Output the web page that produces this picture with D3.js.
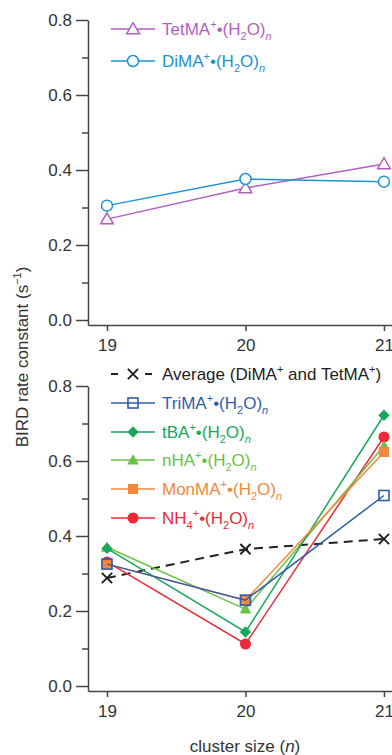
<!DOCTYPE html>
<meta charset="utf-8">
<script src="https://d3js.org/d3.v7.min.js"></script>
<style>
body { margin: 0; background: #fff; }
text { font-family: "Liberation Sans", Arial, Helvetica, sans-serif; }
.axis path, .axis line { stroke: #444; stroke-width: 1.5px; }
.axis text { font-size: 17px; fill: #333; }
</style>
<body>
<div id="chart"></div>
<script>

// ---------- data ----------
const clusterSizes = [19, 20, 21]
const yTicks = [0, 0.2, 0.4, 0.6, 0.8]
const yMinorTicks = [0.1, 0.3, 0.5, 0.7]

const tetMA = [0.269, 0.352, 0.416]
const diMA = [0.305, 0.376, 0.369]

const average = [0.288, 0.365, 0.392]
const triMA = [0.325, 0.229, 0.508]
const tBA = [0.367, 0.144, 0.722]
const nHA = [0.37, 0.205, 0.64]
const monMA = [0.325, 0.229, 0.624]
const nh4 = [0.331, 0.112, 0.664]

const W = 392, H = 755

const SVG = d3.select("#chart").append("svg")
  .attr("width", W)
  .attr("height", H)

const x = d3.scaleLinear().domain([18.863, 21.058]).range([88, 392])

const yTop = d3.scaleLinear().domain([-0.0133, 0.8]).range([325, 20])
const yBot = d3.scaleLinear().domain([-0.0133, 0.8]).range([691, 386])

function drawAxes(y, yAxisBottom) {
  // minor ticks
  SVG.append("g").attr("class", "axis")
    .attr("transform", "translate(88,0)")
    .call(d3.axisLeft(y).tickValues(yMinorTicks).tickSize(6).tickFormat(""))
    .select(".domain").remove()
  SVG.append("g").attr("class", "axis")
    .attr("transform", "translate(88,0)")
    .call(d3.axisLeft(y).tickValues(yTicks).tickSize(12).tickSizeOuter(0).tickPadding(4)
      .tickFormat(d3.format(".1f")))
  SVG.append("g").attr("class", "axis")
    .attr("transform", "translate(0," + yAxisBottom + ")")
    .call(d3.axisBottom(x).tickValues(clusterSizes).tickSize(6).tickSizeOuter(0).tickPadding(8)
      .tickFormat(d3.format("d")))
}

drawAxes(yTop, 325)
drawAxes(yBot, 691)

// y label
SVG.append("text")
  .attr("transform", "translate(28,357) rotate(-90)")
  .attr("text-anchor", "middle")
  .style("font-size", "17px")
  .attr("fill", "#333")
  .call(t => {
    t.append("tspan").text("BIRD rate constant (s")
    t.append("tspan").text("−1").attr("dy", -7).style("font-size", "11px")
    t.append("tspan").text(")").attr("dy", 7)
  })

// x label
SVG.append("text")
  .attr("x", 245).attr("y", 752)
  .attr("text-anchor", "middle")
  .style("font-size", "17px")
  .attr("fill", "#333")
  .call(t => {
    t.append("tspan").text("cluster size (")
    t.append("tspan").text("n").style("font-style", "italic")
    t.append("tspan").text(")")
  })

// ---------- markers ----------
function marker(g, type, color, cx, cy) {
  if (type === "triangleOpen") {
    g.append("path").attr("d", d3.symbol(d3.symbolTriangle, 70)())
      .attr("transform", `translate(${cx},${cy + 1})`)
      .attr("fill", "white").attr("stroke", color).attr("stroke-width", 1.5)
  } else if (type === "circleOpen") {
    g.append("circle").attr("cx", cx).attr("cy", cy).attr("r", 5.5)
      .attr("fill", "white").attr("stroke", color).attr("stroke-width", 1.5)
  } else if (type === "squareOpen") {
    g.append("rect").attr("x", cx - 5).attr("y", cy - 5).attr("width", 10).attr("height", 10)
      .attr("fill", "none").attr("stroke", color).attr("stroke-width", 1.6)
  } else if (type === "diamond") {
    g.append("rect").attr("x", -4).attr("y", -4).attr("width", 8).attr("height", 8)
      .attr("transform", `translate(${cx},${cy}) rotate(45)`).attr("fill", color)
  } else if (type === "triangle") {
    g.append("path").attr("d", d3.symbol(d3.symbolTriangle, 60)())
      .attr("transform", `translate(${cx},${cy + 1})`).attr("fill", color)
  } else if (type === "square") {
    g.append("rect").attr("x", cx - 5).attr("y", cy - 5).attr("width", 10).attr("height", 10)
      .attr("fill", color)
  } else if (type === "circle") {
    g.append("circle").attr("cx", cx).attr("cy", cy).attr("r", 5.5).attr("fill", color)
  } else if (type === "cross") {
    g.append("path").attr("d", d3.symbol(d3.symbolTimes, 70)())
      .attr("transform", `translate(${cx},${cy})`)
      .attr("fill", "none").attr("stroke", color).attr("stroke-width", 2)
  }
}

function drawSeries(values, y, color, type, dash) {
  const g = SVG.append("g")
  const line = d3.line().x((d, i) => x(clusterSizes[i])).y(d => y(d))
  g.append("path").datum(values)
    .attr("d", line)
    .attr("fill", "none")
    .attr("stroke", color)
    .attr("stroke-width", dash ? 2 : 1.5)
    .attr("stroke-dasharray", dash || null)
  values.forEach((v, i) => marker(g, type, color, x(clusterSizes[i]), y(v)))
}

function ionLabel(t, name, sub) {
  t.append("tspan").text(name)
  if (sub) t.append("tspan").text(sub).attr("dy", 5).style("font-size", "11px")
  t.append("tspan").text("+").attr("dy", sub ? -12 : -7).style("font-size", "11px")
  t.append("tspan").text("•(H").attr("dy", 7)
  t.append("tspan").text("2").attr("dy", 5).style("font-size", "11px")
  t.append("tspan").text("O)").attr("dy", -5)
  t.append("tspan").text("n").attr("dy", 5).style("font-size", "11px").style("font-style", "italic")
}

function legendRow(cy, color, type, name, sub, dash) {
  SVG.append("line").attr("x1", 111).attr("x2", 155).attr("y1", cy).attr("y2", cy)
    .attr("stroke", color).attr("stroke-width", dash ? 2 : 1.5)
    .attr("stroke-dasharray", dash || null)
  marker(SVG, type, color, 133, cy)
  const t = SVG.append("text").attr("x", 162).attr("y", cy + 6)
    .style("font-size", "17px").attr("fill", color)
  if (name) ionLabel(t, name, sub)
  return t
}

// ---------- top panel ----------
drawSeries(tetMA, yTop, "#b25fc2", "triangleOpen")
drawSeries(diMA, yTop, "#1d93cf", "circleOpen")
legendRow(29, "#b25fc2", "triangleOpen", "TetMA")
legendRow(61, "#1d93cf", "circleOpen", "DiMA")

// ---------- bottom panel ----------
drawSeries(average, yBot, "#222", "cross", "9,6")
drawSeries(nh4, yBot, "#ec2936", "circle")
drawSeries(nHA, yBot, "#6dc046", "triangle")
drawSeries(tBA, yBot, "#17a85c", "diamond")
drawSeries(monMA, yBot, "#f5873a", "square")
drawSeries(triMA, yBot, "#2f5dab", "squareOpen")

const avgT = legendRow(374, "#222", "cross", null, null, "7,27")
avgT.call(t => {
  t.append("tspan").text("Average (DiMA")
  t.append("tspan").text("+").attr("dy", -7).style("font-size", "11px")
  t.append("tspan").text(" and TetMA").attr("dy", 7)
  t.append("tspan").text("+").attr("dy", -7).style("font-size", "11px")
  t.append("tspan").text(")").attr("dy", 7)
})
legendRow(403, "#2f5dab", "squareOpen", "TriMA")
legendRow(432, "#17a85c", "diamond", "tBA")
legendRow(460, "#6dc046", "triangle", "nHA")
legendRow(489, "#f5873a", "square", "MonMA")
legendRow(518, "#ec2936", "circle", "NH", "4")

</script>
</body>
